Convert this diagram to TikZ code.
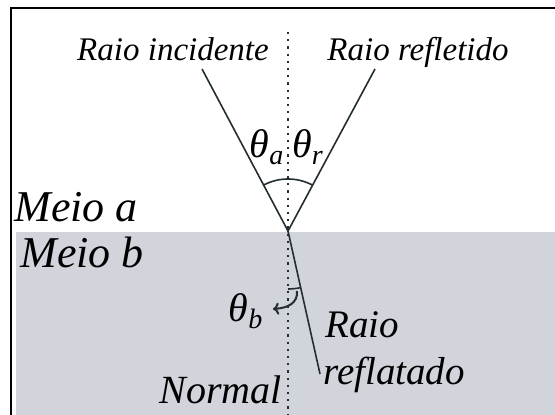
\documentclass[tikz,border=0pt]{standalone}
\usepackage{fontspec}
\setmainfont{Liberation Serif}
\usetikzlibrary{arrows.meta}
\definecolor{mediumgray}{RGB}{209,212,219}
\definecolor{raycolor}{RGB}{35,45,50}

\begin{document}
\begin{tikzpicture}[x=0.5pt, y=-0.5pt,
    ray/.style={line width=0.8pt, raycolor},
    normalline/.style={line width=0.9pt, raycolor, dash pattern=on 1.1pt off 2.5pt},
    lbl/.style={inner sep=0pt, font=\itshape}]
        \def\rA{52}
        \def\rB{58}

        \useasboundingbox (0, 0) rectangle (555, 415);

        % fill medium b
        \fill [mediumgray] (16, 232) rectangle (555, 415);
        % frame
        \draw [line width=1pt] (11, 415) -- (11, 8) -- (555, 8);

        \coordinate (O) at (288, 231);
        \coordinate (inc) at (202, 69);
        \coordinate (refl) at (375, 69);
        \coordinate (refr) at (320, 374);
        \coordinate (ntop) at (288, 32);
        \coordinate (nbot) at (288, 415);

        \draw [normalline] (ntop) -- (nbot);
        \draw [ray] (inc) -- (O) -- (refl);
        \draw [ray] (O) -- (refr);

        % angles
        \draw [ray] (O) ++(-118:\rA) arc [start angle=-118, end angle=-62, radius=\rA];
        \draw [ray] (O) ++(90:\rB) arc [start angle=90, end angle=77.4, radius=\rB];
        \coordinate (bstart) at (297, 291);
        \coordinate (bend) at (273, 309);
        \draw [ray, line width=1pt, -{To[length=3pt, width=6pt]}] (bstart) .. controls (298, 303) and (288, 308) .. (bend);

        \node [lbl, anchor=base, font=\itshape\fontsize{16.5}{18}\selectfont] (tinc) at (173, 61) {Raio incidente};
        \node [lbl, anchor=base, font=\itshape\fontsize{16.5}{18}\selectfont] (trefl) at (418, 61) {Raio refletido};
        \node [lbl, anchor=base west, font=\itshape\fontsize{22}{24}\selectfont] (ma) at (14, 222) {Meio a};
        \node [lbl, anchor=base west, font=\itshape\fontsize{22}{24}\selectfont] (mb) at (20, 268) {Meio b};
        \node [lbl, anchor=base, font=\itshape\fontsize{20}{22}\selectfont] (ta) at (267, 158) {θ\textsubscript{a}};
        \node [lbl, anchor=base, font=\itshape\fontsize{20}{22}\selectfont] (tr) at (308, 158) {θ\textsubscript{r}};
        \node [lbl, anchor=base, font=\itshape\fontsize{20}{22}\selectfont] (tb) at (246, 322) {θ\textsubscript{b}};
        \node [lbl, anchor=base west, font=\itshape\fontsize{19.5}{21}\selectfont] (traio) at (325, 338) {Raio};
        \node [lbl, anchor=base west, font=\itshape\fontsize{19.5}{21}\selectfont] (trefr) at (323, 385) {reflatado};
        \node [lbl, anchor=base east, font=\itshape\fontsize{20}{22}\selectfont] (tnorm) at (282, 403) {Normal};
\end{tikzpicture}
\end{document}
